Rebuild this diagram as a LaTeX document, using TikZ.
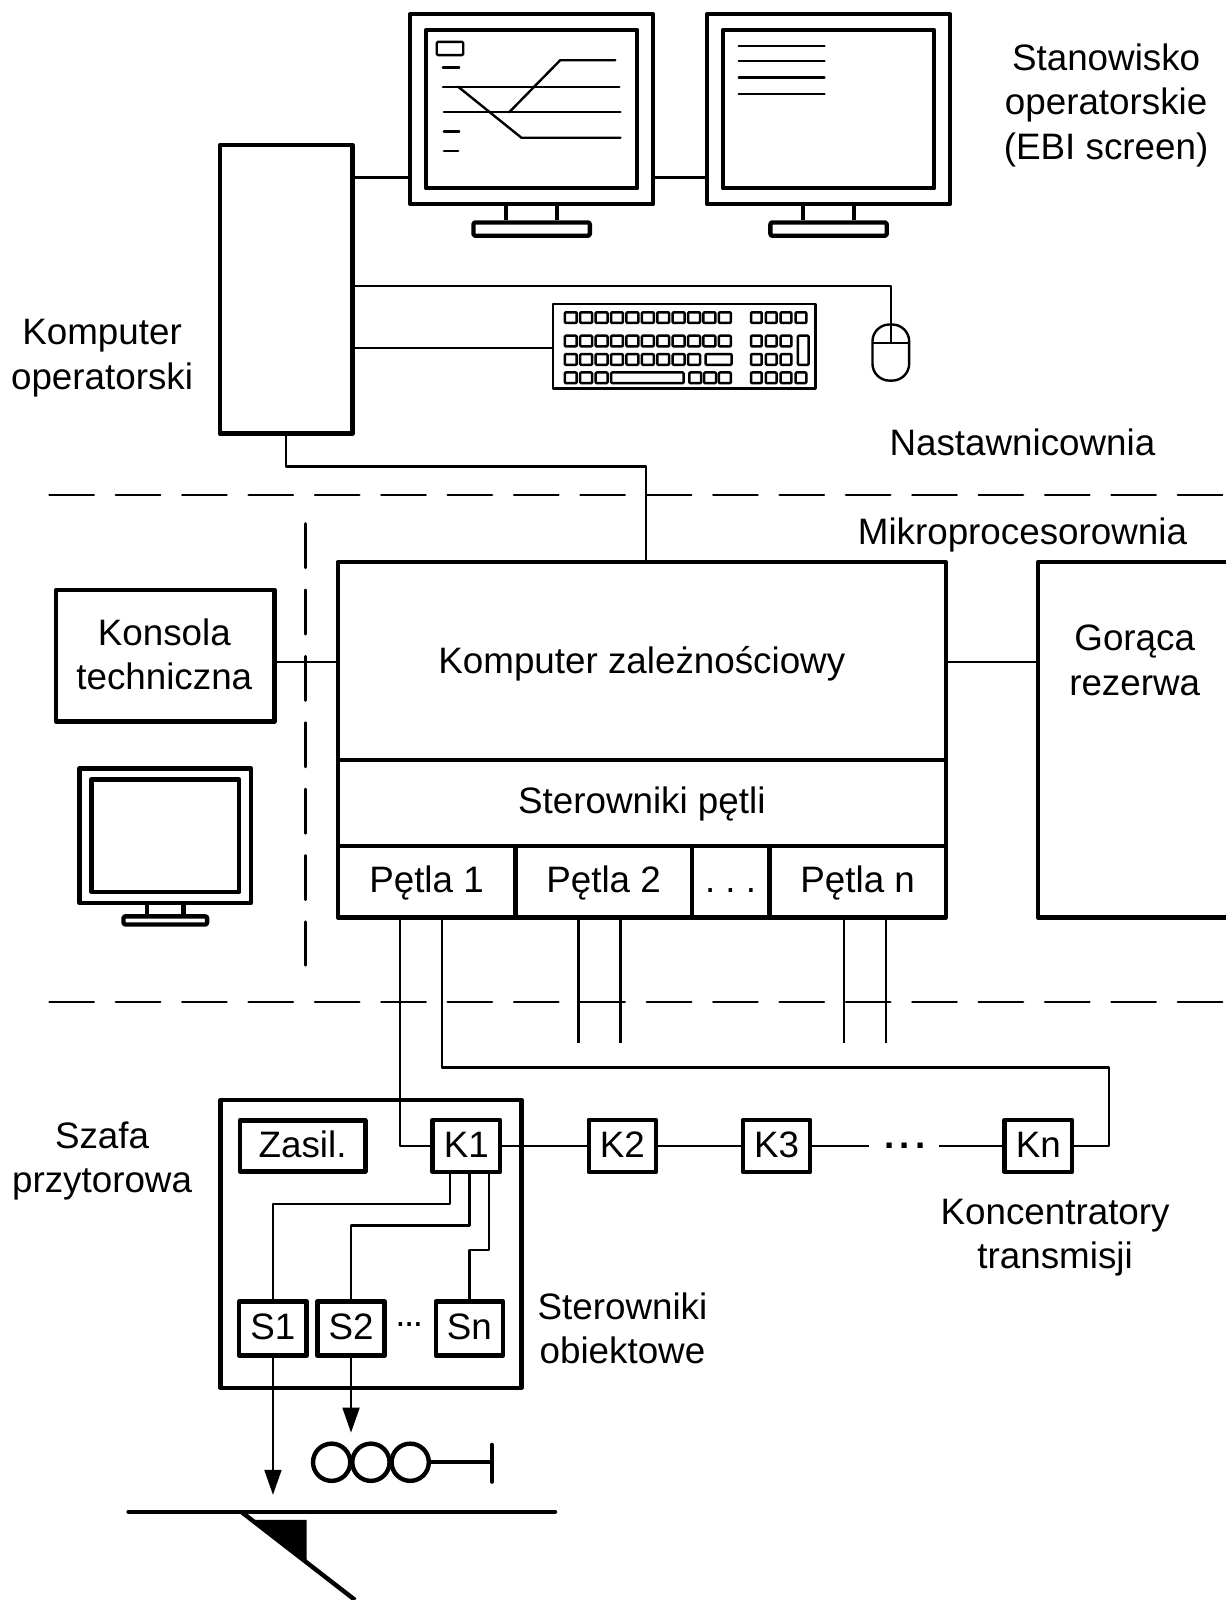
\documentclass[tikz,border=0pt]{standalone}
\usepackage{fontspec}
\setmainfont{Liberation Sans}
\usetikzlibrary{arrows.meta, positioning}
\def\px{0.5104pt}

\begin{document}
\frenchspacing
\begin{tikzpicture}[
        x = \px, y = -\px,
        on grid,
        line join = round,
        >= {Triangle[length = 12.5pt, width = 8.4pt]},
        every node/.style = {font = \fontsize{18.4}{22.2}\selectfont, inner sep = 0pt},
        wire/.style = {line width = 1.2pt},
        heavy/.style = {line width = 2.2pt},
        boundary/.style = {line width = 1.25pt, line cap = round, dash pattern = on 22.2pt off 11pt},
        dims/.style 2 args = {minimum width = #1*\px, minimum height = #2*\px},
        block/.style = {draw, heavy, text height = 10.5pt, text depth = 0pt},
        frame/.style = {draw, heavy},
        unit/.style = {block, dims = {66}{51}, text height = 11.2pt},
        driver/.style = {block, dims = {66}{53}},
        lamp/.style = {draw, heavy, circle, minimum size = 36.5*\px},
        keybtn/.style = {line width = 1.25pt, rounded corners = 0.5pt},
        txt/.style = {align = center}
    ]

    \useasboundingbox (0,0) rectangle (1201,1568);

    % operator desk
    \node[frame, dims = {130}{283}] (desk) at (280.5,283.5) {};
    \node[txt] (desklabel) at (100,351) {Komputer\\operatorski};
    \node[txt] (screenlabel) at (1084,103) {Stanowisko\\operatorskie\\(EBI screen)};

    \foreach \mon/\x in {a/521, b/812} {
        \node[frame, dims = {238}{186}] (mon\mon) at (\x,107) {};
        \node[frame, dims = {207}{155}] (scr\mon) at (\x,107) {};
        \node[frame, rounded corners = 1pt, dims = {114}{13}] (base\mon) at (\x,224.5) {};
        \draw[heavy] ([xshift = -25*\px]mon\mon.south) -- ([xshift = -25*\px]base\mon.north);
        \draw[heavy] ([xshift = 25*\px]mon\mon.south) -- ([xshift = 25*\px]base\mon.north);
    }

    % first screen
    \draw[line width = 1.2pt, rounded corners = 0.6pt] (428,41) rectangle (454,54);
    \draw[wire, line cap = round] (434,66) -- (450,66);
    \draw[wire, line cap = round] (435,129) -- (450,129);
    \draw[wire, line cap = round] (435,148) -- (449,148);
    \draw[wire, line cap = round] (434,85) -- (607,85);
    \draw[wire, line cap = round] (435,110) -- (608,110);
    \draw[wire, line cap = round] (499,110) -- (549,59) -- (603,59);
    \draw[wire, line cap = round] (449,85) -- (511,135) -- (608,135);

    % second screen
    \foreach \y in {45, 60, 76, 92}
        \draw[wire, line cap = round] (724,\y) -- (808,\y);

    \coordinate (cabley) at (0,174);
    \draw[wire] (desk.east |- cabley) -- (mona.west |- cabley);
    \draw[wire] (mona.east |- cabley) -- (monb.west |- cabley);

    % keyboard and mouse
    \node[draw, line width = 1.3pt, dims = {257}{83}] (keyboard) at (670.5,339.5) {};
    \foreach \y in {306, 329}
        \foreach \i in {0,...,10}
            \draw[keybtn] (553.5+15.1*\i,\y) rectangle ++(11.7,10.5);
    \foreach \i in {0,...,8}
        \draw[keybtn] (553.5+15.1*\i,347) rectangle ++(11.7,10.5);
    \draw[keybtn] (691.5,347) rectangle (717,357.5);
    \foreach \i in {0,1,2}
        \draw[keybtn] (553.5+15.1*\i,365) rectangle ++(11.7,10.5);
    \draw[keybtn] (599,365) rectangle (670,375.5);
    \foreach \i in {0,1,2}
        \draw[keybtn] (675.5+14.5*\i,365) rectangle ++(11.7,10.5);
    \foreach \y in {306, 365}
        \foreach \i in {0,...,3}
            \draw[keybtn] (736+14.55*\i,\y) rectangle ++(10.5,10.5);
    \foreach \y in {329, 347}
        \foreach \i in {0,1,2}
            \draw[keybtn] (736+14.55*\i,\y) rectangle ++(10.5,10.5);
    \draw[keybtn] (782,329) rectangle (792.5,357.5);

    \node[draw, line width = 1.2pt, rounded corners = 8.5pt, dims = {36}{55}] (mouse) at (873,345.5) {};
    \coordinate (mousebtn) at (873,336);
    \draw[line width = 1.2pt] (855,336) -- (891,336);
    \coordinate (mousey) at (0,280);
    \coordinate (keyy) at (0,341);
    \draw[wire] (desk.east |- mousey) -| (mousebtn);
    \draw[wire] (desk.east |- keyy) -- (keyboard.west |- keyy);

    \node[txt] (roomtop) at (1002,433.5) {Nastawnicownia};
    \node[txt] (roombot) at (1002,524.5) {Mikroprocesorownia};

    % rooms
    \coordinate (fenceal) at (48.5,485);
    \coordinate (fencear) at (1201,485);
    \coordinate (fencebl) at (48.5,982);
    \coordinate (fencebr) at (1201,982);
    \coordinate (fencect) at (299.5,513);
    \coordinate (fencecb) at (299.5,946);
    \draw[boundary] (fenceal) -- (fencear);
    \draw[boundary] (fencebl) -- (fencebr);
    \draw[boundary] (fencect) -- (fencecb);

    % interlocking computer
    \node[block, dims = {596}{194}, text height = 12pt] (main) at (629,648) {Komputer zależnościowy};
    \node[block, dims = {596}{84}] (ctrl) [below = 139*\px of main] {Sterowniki pętli};
    \node[block, dims = {174}{70}] (loopa) at (418,864) {Pętla 1};
    \node[block, dims = {173}{70}] (loopb) [right = 173.5*\px of loopa] {Pętla 2};
    \node[block, dims = {76}{70}] (loopd) at (716,864) {. . .};
    \node[block, dims = {173}{70}] (loopn) at (840.5,864) {Pętla n};
    \node[frame, dims = {190}{348}] (spare) at (1112,725) {};
    \node[txt] (sparelabel) at (1112,647) {Gorąca\\rezerwa};

    \node[frame, dims = {214}{129}] (console) at (162,642.5) {};
    \node[txt] (consolelabel) at (161,641) {Konsola\\techniczna};

    \coordinate (sidey) at (0,649);
    \draw[wire] (console.east |- sidey) -- (main.west |- sidey);
    \draw[wire] (main.east |- sidey) -- (spare.west |- sidey);

    % technician screen
    \node[frame, dims = {168}{132}] (monc) at (162,819) {};
    \node[frame, dims = {145}{110}] (scrc) at (162,819) {};
    \node[frame, rounded corners = 1pt, dims = {82}{8}] (basec) at (162,902) {};
    \draw[heavy] ([xshift = -18*\px]monc.south) -- ([xshift = -18*\px]basec.north);
    \draw[heavy] ([xshift = 18*\px]monc.south) -- ([xshift = 18*\px]basec.north);

    % desk to interlocking
    \coordinate (busy) at (0,457);
    \coordinate (busx) at (633,0);
    \draw[wire] (desk.south) |- (busx |- busy) -- (main.north -| busx);

    % trackside cabinet
    \node[frame, dims = {295}{282}] (cabinet) at (363.5,1219) {};
    \node[txt] (cabinetlabel) at (100,1138) {Szafa\\przytorowa};
    \node[block, dims = {123}{50}, text height = 11.6pt] (power) at (296.5,1123) {Zasil.};

    \node[unit] (ka) at (457,1123) {K1};
    \node[unit] (kb) [right = 153*\px of ka] {K2};
    \node[unit] (kc) [right = 151*\px of kb] {K3};
    \node[unit] (kn) [right = 256.5*\px of kc] {Kn};
    \node[anchor = base, font = \fontsize{18.4}{22.2}\bfseries] (kdots) at (887,1126) {.\hspace{2.6pt}.\hspace{2.6pt}.};
    \node[txt] (klabel) at (1034,1213) {Koncentratory\\transmisji};

    \node[driver] (sa) at (267.5,1302) {S1};
    \node[driver] (sb) [right = 76.5*\px of sa] {S2};
    \node[driver] (sn) [right = 116*\px of sb] {Sn};
    \node[anchor = base] (sdots) at (401,1300) {.\hspace{-0.7pt}.\hspace{-0.7pt}.};
    \node[txt] (slabel) at (610,1301.5) {Sterowniki\\obiektowe};

    \coordinate (gapa) at (852,1123);
    \coordinate (gapb) at (920,1123);
    \draw[wire] (ka) -- (kb);
    \draw[wire] (kb) -- (kc);
    \draw[wire] (kc) -- (gapa);
    \draw[wire] (gapb) -- (kn);

    % loops
    \coordinate (loopax) at (392,0);
    \coordinate (loopbx) at (433,0);
    \coordinate (retx) at (1087,0);
    \coordinate (rety) at (0,1046);
    \draw[wire] (loopa.south -| loopax) |- (ka.west);
    \draw[wire] (loopa.south -| loopbx) |- (retx |- rety) |- (kn.east);
    \foreach \loopn/\xa/\xb in {loopb/567/608, loopn/827/868} {
        \coordinate (enda) at (\xa,1022);
        \coordinate (endb) at (\xb,1022);
        \draw[wire] (\loopn.south -| enda) -- (enda);
        \draw[wire] (\loopn.south -| endb) -- (endb);
    }

    % cabinet wiring
    \coordinate (kax) at (441,0);
    \coordinate (kbx) at (460,0);
    \coordinate (kcx) at (479,0);
    \draw[wire] (ka.south -| kax) |- (0,1180 -| sa.north) -- (sa.north);
    \draw[wire] (ka.south -| kbx) |- (0,1201 -| sb.north) -- (sb.north);
    \draw[wire] (ka.south -| kcx) |- (0,1225 -| sn.north) -- (sn.north);

    \coordinate (pointtip) at (267.5,1465);
    \coordinate (signaltip) at (344,1404);
    \draw[wire, ->] (sa.south) -- (pointtip);
    \draw[wire, ->] (sb.south) -- (signaltip);

    % signal
    \node[lamp] (la) at (325,1433) {};
    \node[lamp] (lb) [right = 38.5*\px of la] {};
    \node[lamp] (lc) [right = 38.5*\px of lb] {};
    \coordinate (mast) at (482,1433);
    \draw[heavy] (lc) -- (mast);
    \draw[heavy, line cap = round] (482,1416) -- (482,1452);

    % track and turnout
    \draw[heavy, line cap = round] (126,1481.5) -- (544,1481.5);
    \draw[heavy] (237,1482) -- (348,1568);
    \fill (248,1489.5) -- (300.5,1489.5) -- (300.5,1529) -- cycle;
\end{tikzpicture}
\end{document}
